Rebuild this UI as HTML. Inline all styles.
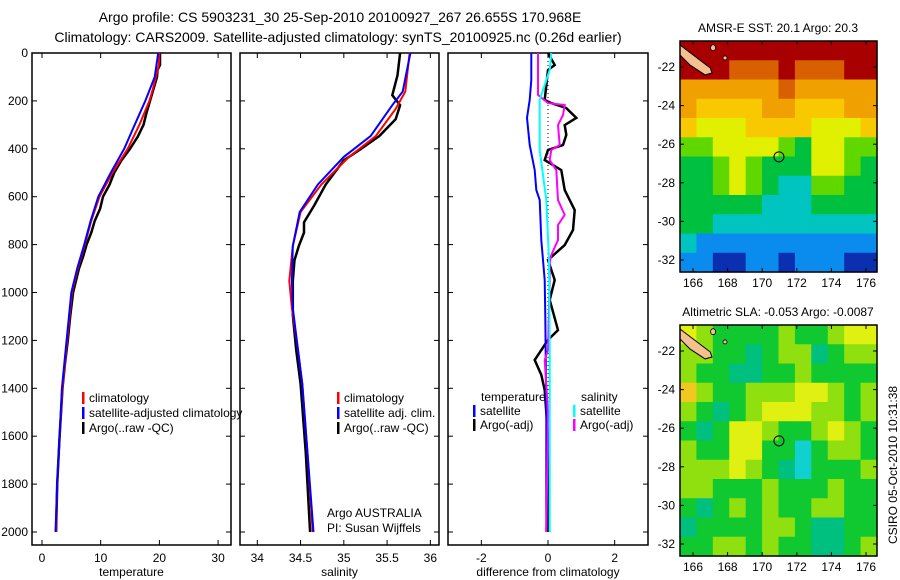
<!DOCTYPE html>
<html><head><meta charset="utf-8">
<style>
html,body{margin:0;padding:0;background:#fff;}
svg{display:block;font-family:"Liberation Sans",sans-serif;}
text{fill:#000;}
</style></head>
<body>
<svg id="fig" width="900" height="580" viewBox="0 0 900 580">
<text x="340" y="22" font-size="14" text-anchor="middle">Argo profile: CS 5903231_30 25-Sep-2010 20100927_267 26.655S 170.968E</text>
<text x="338" y="42" font-size="14" text-anchor="middle">Climatology: CARS2009. Satellite-adjusted climatology: synTS_20100925.nc (0.26d earlier)</text>
<text x="778" y="32" font-size="12" text-anchor="middle">AMSR-E SST: 20.1 Argo: 20.3</text>
<text x="778" y="316" font-size="12" text-anchor="middle">Altimetric SLA: -0.053 Argo: -0.0087</text>
<text transform="translate(897,465) rotate(-90)" font-size="12" text-anchor="middle">CSIRO 05-Oct-2010 10:31:38</text>
<g id="layer"></g>
</svg>
<script>
// ---------- profile data ----------
const depthTicks = [0,200,400,600,800,1000,1200,1400,1600,1800,2000];
const tempTicks = [0,10,20,30];
const salTicks = [34,34.5,35,35.5,36];
const salTickLabels = ["34","34.5","35","35.5","36"];
const diffTicks = [-2,0,2];

const tClimDepth = [0,50,100,150,200,300,400,500,600,700,800,900,1000,1200,1400,1600,1800,2000];
const tClimVal   = [20,19.9,19.4,18.9,18.3,16.6,14.6,12.0,9.8,8.4,7.3,6.1,5.1,4.3,3.5,3.0,2.6,2.4];
const tSatDepth  = [0,100,200,300,400,500,600,700,800,900,1000,1200,1400,1600,1800,2000];
const tSatVal    = [19.8,19.2,17.6,15.8,14.0,11.7,9.6,8.3,7.2,6.0,5.0,4.2,3.4,3.0,2.6,2.3];
const tArgoDepth = [0,50,70,100,200,250,300,350,400,450,500,550,600,650,700,750,800,850,900,1000,1100,1200,1300,1400,1600,1800,2000];
const tArgoVal   = [20.1,20.1,19.7,19.6,18.4,17.8,17.3,16.3,15.0,13.5,12.3,11.5,10.4,9.9,9.0,8.4,7.6,7.0,6.3,5.3,4.8,4.4,3.9,3.5,3.0,2.6,2.4];

const sClimDepth = [0,161,233,347,434,549,664,806,952,1065,1240,1382,1670,2000];
const sClimVal   = [35.76,35.71,35.60,35.37,35.06,34.74,34.50,34.41,34.37,34.40,34.47,34.52,34.58,34.64];
const sSatDepth  = [0,161,218,347,434,549,664,806,952,1065,1240,1382,1670,2000];
const sSatVal    = [35.77,35.68,35.56,35.31,35.0,34.70,34.49,34.41,34.40,34.41,34.47,34.52,34.58,34.65];
const sArgoDepth = [0,93,176,218,276,347,405,448,549,635,707,750,806,865,952,1094,1240,1382,1670,2000];
const sArgoVal   = [35.65,35.62,35.56,35.65,35.60,35.41,35.18,35.0,34.79,34.66,34.54,34.54,34.48,34.43,34.41,34.41,34.45,34.50,34.56,34.61];

const dTSatDepth = [0,113,196,271,384,489,572,614,781,948,1100,1500,2000];
const dTSatVal   = [-0.5,-0.5,-0.55,-0.63,-0.55,-0.4,-0.35,-0.25,-0.2,-0.1,-0.08,-0.05,-0.05];
const dSSatDepth = [0,71,196,405,614,864,1200,1600,2000];
const dSSatVal   = [0.1,0.05,-0.25,-0.25,-0.05,0.03,0.05,0.05,0.05];
const dTArgoDepth= [0,50,71,196,209,230,271,301,342,384,405,447,489,572,656,739,802,864,948,1031,1157,1198,1282,1344,1407,1600,2000];
const dTArgoVal  = [0,0.2,0.0,-0.1,0.1,0.55,0.85,0.5,0.55,0.45,0.0,-0.1,0.4,0.5,0.8,0.75,0.5,0.0,0.2,0.05,0.3,0.0,-0.4,-0.2,-0.1,0.0,0.0];
const dSArgoDepth= [0,92,175,209,217,259,301,384,405,447,489,614,676,718,781,843,873,948,1240,1282,1500,2000];
const dSArgoVal  = [-0.3,-0.3,-0.3,0.0,0.5,0.45,0.3,0.35,0.1,0.05,0.25,0.3,0.5,0.3,0.3,0.1,0.05,0.05,0.0,-0.1,0.0,-0.05];

// ---------- map data ----------
const mapLonTicks = [166,168,170,172,174,176];
const mapLatTicks = [-22,-24,-26,-28,-30,-32];
const sstPalette = ["#0a2fb0","#0a8cef","#00c4c0","#00c040","#60d800","#e0f000","#f8c800","#f0a000","#d86000","#a80000"];
const sstGrid = [
 [9,9,9,9,9,9,9,9,9,9,9,9],
 [9,9,9,8,8,8,9,8,8,8,9,9],
 [7,7,7,7,7,7,8,7,7,7,7,7],
 [7,6,6,6,6,7,7,6,6,6,7,7],
 [6,5,5,5,6,6,6,6,5,5,5,6],
 [4,4,5,5,5,5,4,3,5,5,4,4],
 [3,3,4,5,4,3,3,3,5,5,4,3],
 [3,3,4,5,4,3,2,2,4,4,3,3],
 [3,3,3,3,3,2,2,2,3,3,3,3],
 [3,3,2,2,2,2,2,2,2,2,2,2],
 [2,1,1,1,1,1,1,1,1,1,1,1],
 [1,1,0,0,1,1,0,1,1,1,0,0]];
const slaPalette = ["#10d0d0","#00c080","#10c830","#90e010","#e0f010","#f0c820"];
const slaGrid = [
 [4,3,2,2,2,2,3,2,2,3,4,4],
 [3,3,2,2,1,2,3,3,1,2,3,3],
 [3,2,2,1,1,2,2,3,2,2,2,2],
 [5,3,2,2,3,3,3,4,4,3,2,3],
 [3,2,1,2,3,4,4,4,3,3,2,3],
 [2,1,2,4,4,3,2,2,3,4,3,2],
 [3,2,2,4,4,2,2,0,2,3,3,2],
 [3,3,3,4,3,2,1,0,2,2,2,3],
 [3,3,2,2,2,3,2,2,2,3,2,2],
 [2,1,2,3,2,3,2,2,3,3,2,2],
 [1,2,2,2,2,3,3,2,1,1,2,2],
 [2,2,3,3,2,3,2,2,1,1,2,3]];
const landLon = [165.25,166.4,167.0,167.1,166.7,165.83,165.25];
const landLat = [-20.86,-21.64,-22.05,-22.31,-22.41,-21.9,-21.38];
const argoLon = 170.968, argoLat = -26.655;

// ---------- drawing ----------
const NS = "http://www.w3.org/2000/svg";
const layer = document.getElementById("layer");
function mk(tag, attrs, parent){
  const e = document.createElementNS(NS, tag);
  for (const k in attrs) e.setAttribute(k, attrs[k]);
  (parent||layer).appendChild(e);
  return e;
}
const yD = d => 53 + d*0.2395;

const panels = [
  {x0:32, x1:231, vmin:-1.7, vmax:32.2, name:"temperature-panel"},
  {x0:240, x1:439, vmin:33.8, vmax:36.1, name:"salinity-panel"},
  {x0:448, x1:648, vmin:-3, vmax:3, name:"difference-panel"}
];
panels.forEach(p => { p.sx = v => p.x0 + (v - p.vmin)/(p.vmax - p.vmin)*(p.x1 - p.x0); });

function frame(p, ticks, labels, xlabel, showDepth){
  const g = mk("g", {});
  
  
  const r = mk("rect", {x:p.x0, y:53, width:p.x1-p.x0, height:492, fill:"none", stroke:"#000", "stroke-width":1.5}, g);
  
  
  ticks.forEach((t,i) => {
    const x = p.sx(t);
    mk("line", {x1:x, x2:x, y1:53, y2:58, stroke:"#000"}, g);
    mk("line", {x1:x, x2:x, y1:545, y2:540, stroke:"#000"}, g);
    const tx = mk("text", {x:x, y:562, "font-size":12, "text-anchor":"middle"}, g);
    tx.textContent = labels[i];
    
    
  });
  depthTicks.forEach(d => {
    const y = yD(d);
    mk("line", {x1:p.x0, x2:p.x0+5, y1:y, y2:y, stroke:"#000"}, g);
    mk("line", {x1:p.x1, x2:p.x1-5, y1:y, y2:y, stroke:"#000"}, g);
    if (showDepth){
      const tx = mk("text", {x:28, y:y+4, "font-size":12, "text-anchor":"end"}, g);
      tx.textContent = d;
      
      
    }
  });
  const xl = mk("text", {x:(p.x0+p.x1)/2, y:576, "font-size":12, "text-anchor":"middle"}, g);
  xl.textContent = xlabel;
  
  
}
frame(panels[0], tempTicks, tempTicks.map(String), "temperature", true);
frame(panels[1], salTicks, salTickLabels, "salinity", false);
frame(panels[2], diffTicks, diffTicks.map(String), "difference from climatology", false);

const zl = mk("line", {x1:panels[2].sx(0), x2:panels[2].sx(0), y1:yD(0), y2:yD(2000), stroke:"#000", "stroke-dasharray":"1,3"});



function curve(p, depths, vals, color, w, name){
  const pts = depths.map((d,i) => p.sx(vals[i]).toFixed(1) + "," + yD(d).toFixed(1)).join(" ");
  const pl = mk("polyline", {points:pts, fill:"none", stroke:color, "stroke-width":w, "stroke-linejoin":"miter"});
  
  
}
curve(panels[0], tArgoDepth, tArgoVal, "#000", 2.5, "temp-argo-line");
curve(panels[0], tClimDepth, tClimVal, "#f00", 2, "temp-climatology-line");
curve(panels[0], tSatDepth, tSatVal, "#00f", 2, "temp-satellite-line");
curve(panels[1], sArgoDepth, sArgoVal, "#000", 2.5, "salinity-argo-line");
curve(panels[1], sClimDepth, sClimVal, "#f00", 2, "salinity-climatology-line");
curve(panels[1], sSatDepth, sSatVal, "#00f", 2, "salinity-satellite-line");
curve(panels[2], dTArgoDepth, dTArgoVal, "#000", 2.5, "diff-temp-argo-line");
curve(panels[2], dTSatDepth, dTSatVal, "#00f", 2, "diff-temp-satellite-line");
curve(panels[2], dSArgoDepth, dSArgoVal, "#f0f", 2, "diff-salinity-argo-line");
curve(panels[2], dSSatDepth, dSSatVal, "#0ff", 2, "diff-salinity-satellite-line");

function legend(x, y, color, label, name){
  const g = mk("g", {});
  
  
  if (color) mk("rect", {x:x, y:y-10, width:2.5, height:12, fill:color}, g);
  const t = mk("text", {x:x+7, y:y, "font-size":12}, g);
  t.textContent = label;
}
legend(82, 402, "#f00", "climatology", "legend-temp-climatology");
legend(82, 417, "#00f", "satellite-adjusted climatology", "legend-temp-satellite");
legend(82, 432, "#000", "Argo(..raw -QC)", "legend-temp-argo");
legend(337, 402, "#f00", "climatology", "legend-sal-climatology");
legend(337, 417, "#00f", "satellite adj. clim.", "legend-sal-satellite");
legend(337, 432, "#000", "Argo(..raw -QC)", "legend-sal-argo");
legend(474, 401, null, "temperature", "legend-diff-temperature-header");
legend(473, 415, "#00f", "satellite", "legend-diff-temp-satellite");
legend(473, 429, "#000", "Argo(-adj)", "legend-diff-temp-argo");
legend(574, 401, null, "salinity", "legend-diff-salinity-header");
legend(573, 415, "#0ff", "satellite", "legend-diff-sal-satellite");
legend(573, 429, "#f0f", "Argo(-adj)", "legend-diff-sal-argo");
const pi1 = mk("text", {x:327, y:517, "font-size":12}); pi1.textContent = "Argo AUSTRALIA";


const pi2 = mk("text", {x:327, y:532, "font-size":12}); pi2.textContent = "PI: Susan Wijffels";



// ---------- maps ----------
function drawMap(top, bottom, grid, palette, name){
  const x0 = 680, x1 = 877;
  const refY = top + 26;
  const lx = lon => 693 + (lon - 166)*17.3;
  const ly = lat => refY + (-22 - lat)*19.3;
  const g = mk("g", {});
  
  
  const rows = grid.length, cols = grid[0].length;
  const cw = (x1-x0)/cols, ch = (bottom-top)/rows;
  grid.forEach((row, r) => row.forEach((v, c) => {
    const cell = mk("rect", {x:x0 + c*cw, y:top + r*ch, width:cw+0.6, height:ch+0.6, fill:palette[v]}, g);
    
    
  }));
  const land = mk("polygon", {points: landLon.map((lo,i) => lx(lo).toFixed(1)+","+ly(landLat[i]).toFixed(1)).join(" "), fill:"#f4c090", stroke:"#000", "stroke-width":1}, g);
  
  
  mk("ellipse", {cx:lx(167.16), cy:ly(-21.0), rx:2.5, ry:3, fill:"#f4c090", stroke:"#000", "stroke-width":0.8}, g);
  mk("ellipse", {cx:lx(167.85), cy:ly(-21.53), rx:2, ry:2, fill:"#f4c090", stroke:"#000", "stroke-width":0.8}, g);
  const mark = mk("circle", {cx:lx(argoLon), cy:ly(argoLat), r:5, fill:"none", stroke:"#000", "stroke-width":1}, g);
  
  
  mk("rect", {x:x0, y:top, width:x1-x0, height:bottom-top, fill:"none", stroke:"#000", "stroke-width":1.5}, g);
  mapLonTicks.forEach(lo => {
    const x = lx(lo);
    mk("line", {x1:x, x2:x, y1:top, y2:top+4, stroke:"#000"}, g);
    mk("line", {x1:x, x2:x, y1:bottom, y2:bottom-4, stroke:"#000"}, g);
    const t = mk("text", {x:x, y:bottom+15, "font-size":12, "text-anchor":"middle"}, g);
    t.textContent = lo;
    
    
  });
  mapLatTicks.forEach(la => {
    const y = ly(la);
    mk("line", {x1:x0, x2:x0+4, y1:y, y2:y, stroke:"#000"}, g);
    mk("line", {x1:x1, x2:x1-4, y1:y, y2:y, stroke:"#000"}, g);
    const t = mk("text", {x:675, y:y+4, "font-size":12, "text-anchor":"end"}, g);
    t.textContent = la;
    
    
  });
}
drawMap(41, 272, sstGrid, sstPalette, "sst-map");
drawMap(325, 556, slaGrid, slaPalette, "sla-map");
</script>
</body></html>
